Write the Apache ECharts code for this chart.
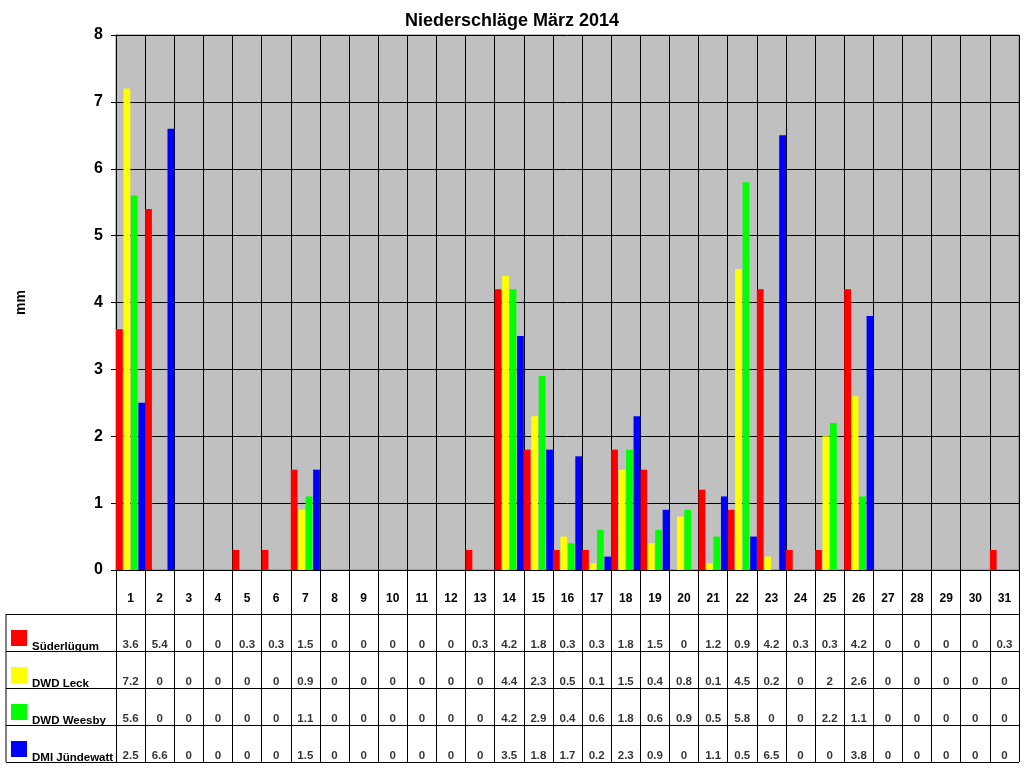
<!DOCTYPE html>
<html>
<head>
<meta charset="utf-8">
<script src="https://cdn.jsdelivr.net/npm/echarts@6/dist/echarts.min.js"></script>
<style>html,body{margin:0;padding:0;background:#fff;}#c{width:1024px;height:768px;}</style>
</head>
<body>
<div id="c"></div>
<script>
var days = ['1','2','3','4','5','6','7','8','9','10','11','12','13','14','15','16','17','18','19','20','21','22','23','24','25','26','27','28','29','30','31'];
var stations = ['Süderlügum','DWD Leck','DWD Weesby','DMI Jündewatt'];
var colors = ['#FF0000','#FFFF00','#00FF00','#0000FF'];
var suederluegum = [3.6,5.4,0,0,0.3,0.3,1.5,0,0,0,0,0,0.3,4.2,1.8,0.3,0.3,1.8,1.5,0,1.2,0.9,4.2,0.3,0.3,4.2,0,0,0,0,0.3];
var leck = [7.2,0,0,0,0,0,0.9,0,0,0,0,0,0,4.4,2.3,0.5,0.1,1.5,0.4,0.8,0.1,4.5,0.2,0,2,2.6,0,0,0,0,0];
var weesby = [5.6,0,0,0,0,0,1.1,0,0,0,0,0,0,4.2,2.9,0.4,0.6,1.8,0.6,0.9,0.5,5.8,0,0,2.2,1.1,0,0,0,0,0];
var juendewatt = [2.5,6.6,0,0,0,0,1.5,0,0,0,0,0,0,3.5,1.8,1.7,0.2,2.3,0.9,0,1.1,0.5,6.5,0,0,3.8,0,0,0,0,0];
var yTicks = {min:0, max:8, interval:1};

var allSeries = [suederluegum, leck, weesby, juendewatt];
var font = 'Liberation Sans, Arial, sans-serif';

var barSeries = allSeries.map(function(vals, i){
  return {
    type:'bar', name:stations[i], data:vals, xAxisIndex:0, yAxisIndex:0,
    barCategoryGap:'0%', barGap:'10%',
    itemStyle:{color:colors[i]}, silent:true, animation:false
  };
});
var tableData = [];
allSeries.forEach(function(vals, s){
  vals.forEach(function(v, d){ tableData.push([d, s, v]); });
});
var rich = {};
colors.forEach(function(c, i){
  rich['sq'+i] = {backgroundColor:c, width:16, height:16, verticalAlign:'top'};
});
rich.n = {fontFamily:font, fontWeight:'bold', fontSize:11.5, color:'#000', padding:[11,0,0,5], verticalAlign:'top', lineHeight:14};

var chart = echarts.init(document.getElementById('c'));
chart.setOption({
  animation:false,
  backgroundColor:'#fff',
  title:{text:'Niederschläge März 2014', left:'center', top:7,
    textStyle:{fontFamily:font, fontWeight:'bold', fontSize:18, color:'#000'}},
  grid:[
    {left:116, top:35, right:5, height:535, show:true, backgroundColor:'#C0C0C0', borderColor:'#808080', borderWidth:1},
    {left:116, top:614, right:5, height:148, show:false}
  ],
  xAxis:[
    {type:'category', gridIndex:0, data:days, boundaryGap:true,
     axisLine:{lineStyle:{color:'#000', width:1}},
     axisTick:{show:true, inside:false, length:44, lineStyle:{color:'#000'}},
     axisLabel:{margin:23, fontFamily:font, fontWeight:'bold', fontSize:12, color:'#000', interval:0},
     splitLine:{show:true, lineStyle:{color:'#000', width:1}}},
    {type:'category', gridIndex:1, data:days, boundaryGap:true, position:'top',
     axisLine:{show:true, lineStyle:{color:'#000'}},
     axisTick:{show:false}, axisLabel:{show:false},
     splitLine:{show:true, lineStyle:{color:'#000', width:1}}}
  ],
  yAxis:[
    {type:'value', gridIndex:0, min:yTicks.min, max:yTicks.max, interval:yTicks.interval,
     name:'mm', nameLocation:'middle', nameGap:88, nameRotate:90,
     nameTextStyle:{fontFamily:font, fontWeight:'bold', fontSize:14, color:'#000'},
     axisLine:{show:true, lineStyle:{color:'#000'}},
     axisTick:{show:true, length:5, lineStyle:{color:'#000'}},
     axisLabel:{margin:13, fontFamily:font, fontWeight:'bold', fontSize:16, color:'#000'},
     splitLine:{show:true, lineStyle:{color:'#000', width:1}}},
    {type:'category', gridIndex:1, data:stations, inverse:true, boundaryGap:true,
     axisLine:{show:true, lineStyle:{color:'#000'}},
     axisTick:{show:true, length:110, lineStyle:{color:'#000'}},
     axisLabel:{margin:105, align:'left', padding:[11,0,0,0],
       formatter:function(v, idx){ return '{sq'+idx+'|}{n|'+v+'}'; }, rich:rich},
     splitLine:{show:true, lineStyle:{color:'#000', width:1}}}
  ],
  graphic:[
    {type:'line', shape:{x1:6, y1:614, x2:6, y2:762}, style:{stroke:'#000', lineWidth:1}, silent:true}
  ],
  series: barSeries.concat([{
    type:'scatter', xAxisIndex:1, yAxisIndex:1, data:tableData, symbolSize:0, silent:true,
    label:{show:true, position:'inside', offset:[0,12], fontFamily:font, fontWeight:'bold', fontSize:11.5, color:'#000',
      formatter:function(p){ return String(p.value[2]); }}
  }])
});
</script>
</body>
</html>
